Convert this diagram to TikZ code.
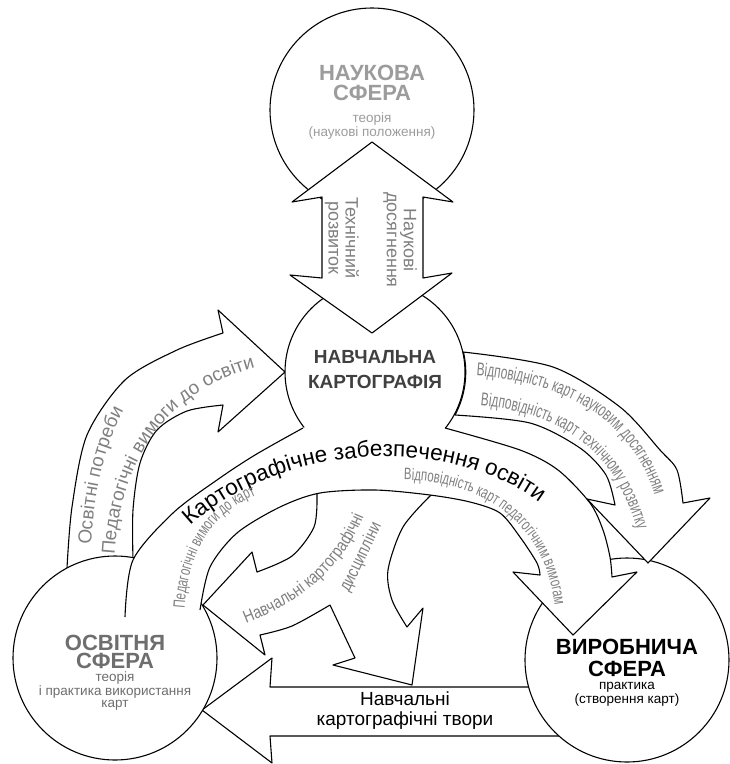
\documentclass[tikz,border=0pt]{standalone}
\usepackage{fontspec}
\setmainfont{Liberation Sans}
\newfontfamily\narrowf[FakeStretch=0.69]{Liberation Sans}
\newfontfamily\narrowg[FakeStretch=0.64]{Liberation Sans}
\newfontfamily\narrowh[FakeStretch=0.82]{Liberation Sans}
\usetikzlibrary{decorations.text}
\definecolor{tgray}{HTML}{808080}
\definecolor{lgray}{HTML}{9C9C9C}
\definecolor{dgray}{HTML}{404040}
\definecolor{mgray}{HTML}{6E6E6E}
\newcommand\tA{\fontsize{19}{19}\selectfont}
\newcommand\tB{\fontsize{22.5}{22.5}\selectfont}
\newcommand\tN{\narrowg\fontsize{18.5}{18.5}\selectfont}
\newcommand\tS{\narrowf\fontsize{16.5}{16.5}\selectfont}
\newcommand\tH{\narrowh\fontsize{17.5}{17.5}\selectfont}
\begin{document}
\begin{tikzpicture}[x=1pt,y=-1pt,
  shp/.style={draw=black, fill=white, line width=1.1pt, line join=round},
  ln/.style={draw=black, line width=1.1pt, line join=round},
  circ/.style={circle, draw=black, fill=white, line width=1.1pt, inner sep=0pt},
  small/.style={font=\fontsize{13.5}{12.5}\selectfont, align=center}]
\useasboundingbox (0,0) rectangle (730,764);

% Навчальні картографічні твори arrow
\filldraw[shp] (580,736) -- (270,736) -- (272,763) -- (202,710) -- (272,658) -- (270,687) -- (560,687) -- cycle;

% left arrow (Освітні потреби)
\filldraw[shp] plot[smooth] coordinates {(67,568) (72,507) (87,435) (125,380) (177,350) (223,333)}
  -- (218,310) -- (285,372) -- (218,432) -- (223,405)
  -- plot[smooth] coordinates {(223,405) (187,411) (157,430) (140,463) (133,510) (133,560)}
  -- (110,600) -- cycle;

% fork (дисципліни + to твори)
\filldraw[shp] (317,484) -- plot[smooth] coordinates {(317,497) (314,527) (292,556) (257,572)}
  -- (252,552) -- (203,605) -- (265,655) -- (260,635)
  -- plot[smooth] coordinates {(260,635) (292,626) (330,605)}
  -- (355,658) -- (333,665) -- (412,685) -- (423,608) -- (407,627)
  -- plot[smooth] coordinates {(407,627) (392,600) (388,570) (403,527) (432,494)}
  -- (432,484) -- cycle;

% circles
\node[circ, minimum size=204pt] (osv) at (115,658) {};
\node[circ, minimum size=204pt] (vyr) at (627,660) {};
\node[circ, minimum size=180pt] (navch) at (375,372) {};
\node[circ, minimum size=204pt] (nauk) at (372,110) {};

% band Картографічне забезпечення освіти
\fill[white] plot[smooth] coordinates {(125,617) (133,560) (173,513) (217,480) (255,455) (303,428)}
  .. controls (340,412) and (410,412) .. (445,428)
  -- plot[smooth] coordinates {(445,428) (520,450) (558,470) (590,503) (603,530) (610,557) (612,577)}
  -- (637,572) -- (573,635) -- (513,572) -- (540,575)
  -- plot[smooth] coordinates {(540,575) (537,563) (520,537) (500,513) (470,502) (430,495) (375,490) (320,493) (280,507) (237,533) (210,567) (200,610)}
  -- cycle;
\draw[ln] plot[smooth] coordinates {(125,617) (133,560) (173,513) (217,480) (255,455) (303,428)};
\draw[ln] plot[smooth] coordinates {(445,428) (520,450) (558,470) (590,503) (603,530) (610,557) (612,577)}
  -- (637,572) -- (573,635) -- (513,572) -- (540,575)
  -- plot[smooth] coordinates {(540,575) (537,563) (520,537) (500,513) (470,502) (430,495) (375,490) (320,493) (280,507) (237,533) (210,567) (200,610)};

% upper right arrow
\filldraw[shp] plot[smooth] coordinates {(463,352) (553,367) (620,407) (660,450) (677,470) (683,503)}
  -- (710,498) -- (648,563) -- (587,499) -- (615,505)
  -- plot[smooth] coordinates {(615,505) (606,475) (580,448) (530,423) (455,415)}
  arc[start angle=28.3, end angle=-12.8, radius=90] -- cycle;

% double arrow
\filldraw[shp] (372,142) -- (453,202) -- (423,197) -- (423,278) -- (452,273) -- (372,333)
  -- (290,275) -- (322,278) -- (322,197) -- (292,202) -- cycle;

% circle texts
\node[font=\fontsize{22}{20.5}\selectfont\bfseries, align=center, text=lgray] (naukt) at (372,83) {НАУКОВА\\СФЕРА};
\node[small, text=lgray] (nauks) at (372,126) {теорія\\(наукові положення)};
\node[font=\fontsize{19}{25}\selectfont\bfseries, align=center, text=dgray] (navcht) at (375,370) {НАВЧАЛЬНА\\КАРТОГРАФІЯ};
\node[font=\fontsize{22}{18.5}\selectfont\bfseries, align=center, text=mgray] (osvt) at (115,652) {ОСВІТНЯ\\СФЕРА};
\node[small, text=mgray] (osvs) at (115,691) {теорія\\і практика використання\\карт};
\node[font=\fontsize{22}{22}\selectfont\bfseries, align=center] (vyrt) at (627,658) {ВИРОБНИЧА\\СФЕРА};
\node[font=\fontsize{13.5}{11.5}\selectfont, align=center] (vyrs) at (627,694) {практика\\(створення карт)};

% double arrow texts
\node[rotate=-90, font=\fontsize{18}{17}\selectfont, align=center, text=tgray] (tech) at (342,238) {Технічний\\розвиток};
\node[rotate=-90, font=\fontsize{18}{17}\selectfont, align=center, text=tgray] (nauka) at (400,240) {Наукові\\досягнення};

% твори text
\node[font=\fontsize{19}{20}\selectfont, align=center] (tvory) at (405,711) {Навчальні\\картографічні твори};

% curved texts
\path[decorate, decoration={text along path, text align=center, text color=tgray,
  text={|\tA|Освітні потреби}}]
  (90,575) .. controls (92,500) and (100,440) .. (140,385);
\path[decorate, decoration={text along path, text align=center, text color=tgray,
  text={|\tA|Педагогічні вимоги до освіти}}]
  (114,575) .. controls (114,470) and (160,385) .. (275,363);
\path[decorate, decoration={text along path, text align=center, text color=black,
  text={|\tB|Картографічне забезпечення освіти}}]
  (165,555) .. controls (240,445) and (465,415) .. (568,528);
\path[decorate, decoration={text along path, text align=center, text color=tgray,
  text={|\tS|Відповідність карт педагогічним вимогам}}]
  (402,480) .. controls (482,480) and (545,522) .. (555,607);
\path[decorate, decoration={text along path, text align=center, text color=tgray,
  text={|\tS|Педагогічні вимоги до карт}}]
  (184,625) .. controls (184,550) and (215,505) .. (272,490);
\path[decorate, decoration={text along path, text align=center, text color=tgray,
  text={|\tN|Відповідність карт науковим досягненням}}]
  (468,375) .. controls (562,380) and (634,418) .. (657,503);
\path[decorate, decoration={text along path, text align=center, text color=tgray,
  text={|\tN|Відповідність карт технічному розвитку}}]
  (470,405) .. controls (550,410) and (615,440) .. (640,540);
\path[decorate, decoration={text along path, text align=center, text color=tgray,
  text={|\tH|Навчальні картографічні}}]
  (222,632) .. controls (300,608) and (352,565) .. (372,492);
\path[decorate, decoration={text along path, text align=center, text color=tgray,
  text={|\tH|дисципліни}}]
  (336,620) .. controls (356,578) and (375,540) .. (394,498);
\end{tikzpicture}
\end{document}
